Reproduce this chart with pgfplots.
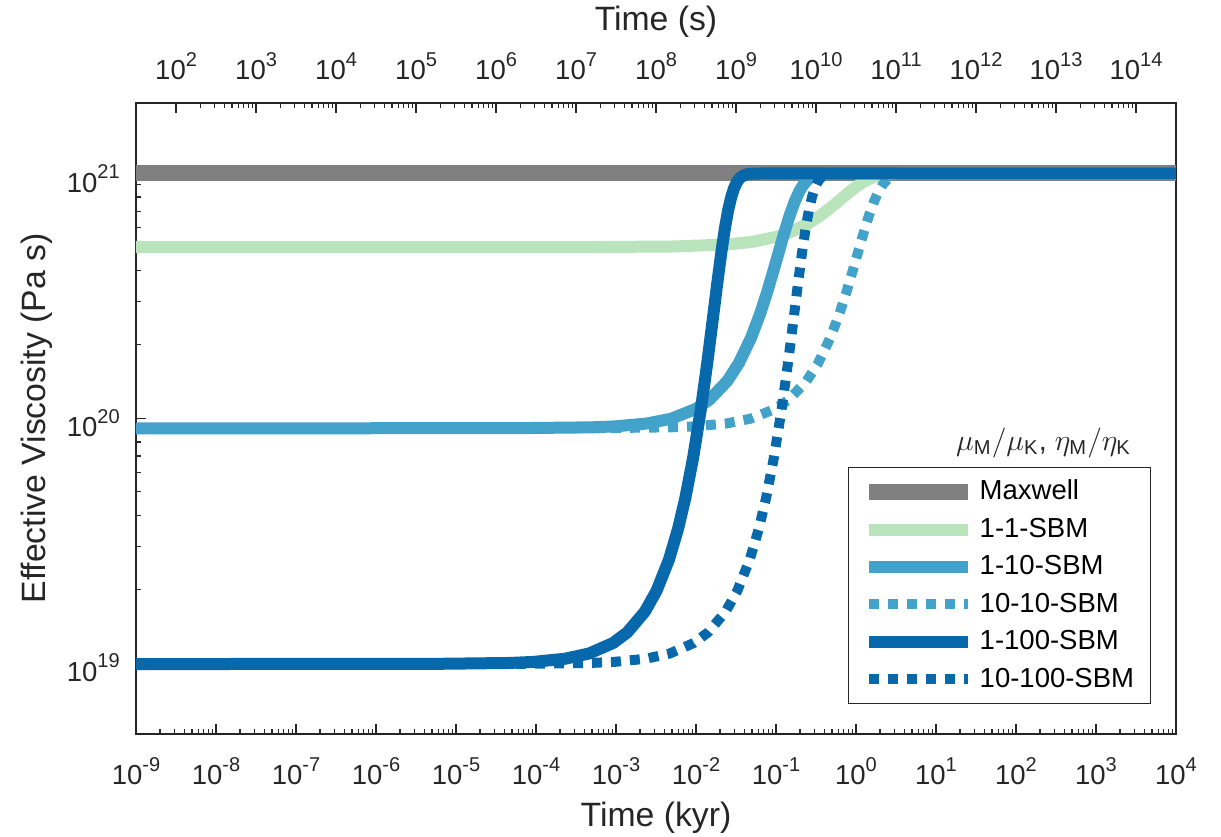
\documentclass[border=0pt]{standalone}
\usepackage{fontspec}
\setmainfont{Liberation Sans}
\usepackage{amsmath}
\usepackage{pgfplots}
\pgfplotsset{compat=1.18}

\definecolor{cgray}{HTML}{808080}
\definecolor{cgreen}{HTML}{BAE4BC}
\definecolor{cmid}{HTML}{43A2CA}
\definecolor{cdark}{HTML}{0868AC}
\definecolor{axc}{HTML}{262626}

\newcommand{\tp}[1]{10\raisebox{0.5em}{\fontsize{8}{8}\selectfont #1}}

\begin{document}
\begin{tikzpicture}
\useasboundingbox (-54.4pt,-41.2pt) rectangle (434pt,293.6pt);
\begin{axis}[name=main, at={(0,0)}, anchor=south west,
  scale only axis, width=416pt, height=252.4pt,
  xmode=log, ymode=log,
  xmin=1e-9, xmax=1e4, ymin=5.13e18, ymax=1.94e21,
  xtick={1e-9,1e-8,1e-7,1e-6,1e-5,1e-4,1e-3,1e-2,1e-1,1,1e1,1e2,1e3,1e4},
  xticklabels={\tp{-9},\tp{-8},\tp{-7},\tp{-6},\tp{-5},\tp{-4},\tp{-3},\tp{-2},\tp{-1},\tp{0},\tp{1},\tp{2},\tp{3},\tp{4}},
  ytick={1e19,1e20,1e21},
  yticklabels={\tp{19},\tp{20},\tp{21}},
  xtick pos=left, ytick pos=left, tick align=inside,
  major tick length=4pt, minor tick length=2pt,
  axis line style={axc, line width=0.6pt},
  tick style={axc, line width=0.5pt},
  tick label style={font=\fontsize{11}{13}\selectfont, text=axc},
  xticklabel style={anchor=base, yshift=-20.4pt},
  yticklabel style={anchor=east, xshift=-3pt, yshift=-2pt},
  xlabel={Time (kyr)}, ylabel={Effective Viscosity (Pa s)},
  xlabel style={at={(rel axis cs:0.5,0)}, anchor=base, yshift=-37.2pt, font=\fontsize{13.5}{16}\selectfont, text=axc},
  ylabel style={at={(rel axis cs:0,0.5)}, anchor=base, yshift=36pt, font=\fontsize{13.5}{16}\selectfont, text=axc},
  legend cell align=left,
  legend style={at={(rel axis cs:1,0)}, anchor=south east, xshift=-10pt, yshift=12pt,
    draw=axc, line width=0.5pt, fill=white, font=\fontsize{11}{13}\selectfont,
    inner xsep=5pt, inner ysep=3.5pt, row sep=2.8pt,
    nodes={inner sep=1.5pt}},
  legend image code/.code={\draw[#1] (0pt,0pt) -- (39.6pt,0pt);},
  every axis plot/.append style={line join=round},
]
% Maxwell
\addplot[cgray, line width=6.4pt] coordinates {(1e-9,1e21) (1e4,1e21)};
\addlegendentry{Maxwell}
% 1-1-SBM
\addplot[cgreen, line width=4.8pt] coordinates {
(1e-9,5.0e20) (5e-4,5.0025e20) (5e-3,5.0250e20) (2.5e-2,5.1251e20) (5e-2,5.2499e20)
(0.1,5.4984e20) (0.15,5.7445e20) (0.25,6.2247e20) (0.35,6.6818e20) (0.5,7.3105e20)
(0.65,7.8585e20) (0.8,8.3202e20) (1.0,8.8082e20) (1.25,9.2413e20) (1.5,9.5257e20)
(1.75,9.7069e20) (2.0,9.8201e20) (2.5,9.9331e20) (3.0,9.9753e20) (4.0,9.9967e20) (1e4,1e21)};
\addlegendentry{1-1-SBM}
% 1-10-SBM
\addplot[cmid, line width=4.8pt] coordinates {
(1e-9,9.0909e19) (4.9e-5,9.0992e19) (4.9e-4,9.1739e19) (9.8e-4,9.2576e19) (2.45e-3,9.5129e19)
(4.9e-3,9.9522e19) (9.8e-3,1.0885e20) (1.47e-2,1.1893e20) (2.45e-2,1.4154e20) (3.43e-2,1.6762e20)
(4.9e-2,2.1372e20) (6.37e-2,2.6846e20) (7.84e-2,3.3124e20) (9.8e-2,4.2499e20) (0.1225,5.4915e20)
(0.147,6.6760e20) (0.1715,7.6805e20) (0.196,8.4517e20) (0.2205,9.0001e20) (0.245,9.3687e20)
(0.2695,9.6074e20) (0.294,9.7581e20) (0.3185,9.852e20) (0.343,9.9096e20) (0.3675,9.945e20)
(0.392,9.9666e20) (0.441,9.9877e20) (0.49,9.9955e20) (1e4,1e21)};
\addlegendentry{1-10-SBM}
% 10-10-SBM
\addplot[cmid, line width=4pt, dash pattern=on 4pt off 3.6pt] coordinates {
(1e-9,9.0909e19) (4.8e-4,9.0992e19) (4.8e-3,9.1739e19) (9.6e-3,9.2576e19) (2.4e-2,9.5129e19)
(4.8e-2,9.9522e19) (9.6e-2,1.0885e20) (0.144,1.1893e20) (0.24,1.4154e20) (0.336,1.6762e20)
(0.48,2.1372e20) (0.624,2.6846e20) (0.768,3.3124e20) (0.96,4.2499e20) (1.2,5.4915e20)
(1.44,6.6760e20) (1.68,7.6805e20) (1.92,8.4517e20) (2.16,9.0001e20) (2.4,9.3687e20)
(2.64,9.6074e20) (2.88,9.7581e20) (3.12,9.852e20) (3.36,9.9096e20) (3.6,9.945e20)
(3.84,9.9666e20) (4.8,9.9955e20) (1e4,1e21)};
\addlegendentry{10-10-SBM}
% 1-100-SBM
\addplot[cdark, line width=4.8pt] coordinates {
(1e-9,9.901e18) (4.6e-6,9.911e18) (4.6e-5,9.9995e18) (9.2e-5,1.0099e19) (2.3e-4,1.0404e19)
(4.6e-4,1.0931e19) (9.2e-4,1.2067e19) (1.38e-3,1.3319e19) (2.3e-3,1.6221e19) (3.22e-3,1.9739e19)
(4.6e-3,2.6462e19) (5.98e-3,3.5398e19) (7.36e-3,4.7192e19) (9.2e-3,6.882e19) (1.15e-2,1.0858e20)
(1.38e-2,1.6725e20) (1.61e-2,2.4876e20) (1.84e-2,3.5311e20) (2.07e-2,4.7371e20) (2.3e-2,5.9744e20)
(2.53e-2,7.0987e20) (2.76e-2,8.0135e20) (2.99e-2,8.6934e20) (3.22e-2,9.1642e20) (3.45e-2,9.476e20)
(3.68e-2,9.6759e20) (4.14e-2,9.878e20) (4.6e-2,9.9548e20) (6.9e-2,9.9997e20) (1e4,1e21)};
\addlegendentry{1-100-SBM}
% 10-100-SBM
\addplot[cdark, line width=4pt, dash pattern=on 4pt off 3.6pt] coordinates {
(1e-9,9.901e18) (4.7e-5,9.911e18) (4.7e-4,9.9995e18) (9.4e-4,1.0099e19) (2.35e-3,1.0404e19)
(4.7e-3,1.0931e19) (9.4e-3,1.2067e19) (1.41e-2,1.3319e19) (2.35e-2,1.6221e19) (3.29e-2,1.9739e19)
(4.7e-2,2.6462e19) (6.11e-2,3.5398e19) (7.52e-2,4.7192e19) (9.4e-2,6.882e19) (0.1175,1.0858e20)
(0.141,1.6725e20) (0.1645,2.4876e20) (0.188,3.5311e20) (0.2115,4.7371e20) (0.235,5.9744e20)
(0.2585,7.0987e20) (0.282,8.0135e20) (0.3055,8.6934e20) (0.329,9.1642e20) (0.3525,9.476e20)
(0.376,9.6759e20) (0.423,9.878e20) (0.47,9.9548e20) (0.705,9.9997e20) (1e4,1e21)};
\addlegendentry{10-100-SBM}
\node[anchor=base east, font=\fontsize{11.5}{13}\selectfont, text=axc, xshift=-14.4pt, yshift=113.5pt]
  at (rel axis cs:1,0) {$\mu_{\text{M}}/\mu_{\text{K}}$, $\eta_{\text{M}}/\eta_{\text{K}}$};
\end{axis}
\begin{axis}[at={(0,0)}, anchor=south west,
  scale only axis, width=416pt, height=252.4pt,
  xmode=log, ymode=log,
  xmin=31.5576, xmax=3.15576e14, ymin=5.13e18, ymax=1.94e21,
  axis x line*=top, hide y axis,
  axis line style={-, axc, line width=0.6pt},
  tick style={axc, line width=0.5pt},
  tick align=inside, major tick length=4pt, minor tick length=2pt,
  xtick={1e2,1e3,1e4,1e5,1e6,1e7,1e8,1e9,1e10,1e11,1e12,1e13,1e14},
  xticklabels={\tp{2},\tp{3},\tp{4},\tp{5},\tp{6},\tp{7},\tp{8},\tp{9},\tp{10},\tp{11},\tp{12},\tp{13},\tp{14}},
  tick label style={font=\fontsize{11}{13}\selectfont, text=axc},
  xticklabel style={anchor=base, yshift=9.2pt},
  xlabel={Time (s)},
  xlabel style={at={(rel axis cs:0.5,1)}, anchor=base, yshift=28.8pt, font=\fontsize{13.5}{16}\selectfont, text=axc},
]
\addplot[draw=none, forget plot] coordinates {(1e3,1e20)};
\end{axis}
\end{tikzpicture}
\end{document}
